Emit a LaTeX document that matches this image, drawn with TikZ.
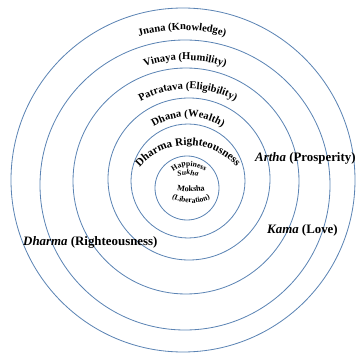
\documentclass[tikz,border=0pt]{standalone}
\usepackage{fontspec}
\setmainfont{Liberation Serif}
\usetikzlibrary{decorations.text}
\definecolor{ringblue}{RGB}{92,132,180}

\tikzset{
  ring/.style={draw=ringblue, line width=0.7pt},
  arclabel/.style={decorate, decoration={text along path, text align=center, text={#1}}},
  plainlabel/.style={font=\fontsize{11}{13}\selectfont\bfseries, inner sep=0pt}
}

\begin{document}
\begin{tikzpicture}[x=0.03cm,y=0.03cm]
  \useasboundingbox (0,0) rectangle (357,357);
  % rings, outermost first
  \draw[ring] (183,177) circle (172);
  \draw[ring] (185,172) circle (145);
  \draw[ring] (186,176) circle (113);
  \draw[ring] (189,178) circle (81);
  \draw[ring] (188,176) circle (57);
  \draw[ring] (187,169) circle (32);
  % curved labels
  \path[arclabel={|\fontsize{9}{9}\selectfont\bfseries|Jnana (Knowledge)}]
    (182,172) ++(125:155) arc[start angle=125, end angle=55, radius=155];
  \path[arclabel={|\fontsize{9}{9}\selectfont\bfseries|Vinaya (Humility)}]
    (185,172) ++(130:125) arc[start angle=130, end angle=50, radius=125];
  \path[arclabel={|\fontsize{9}{9}\selectfont\bfseries|Patratava (Eligibility)}]
    (188,171) ++(140:97) arc[start angle=140, end angle=40, radius=97];
  \path[arclabel={|\fontsize{9}{9}\selectfont\bfseries|Dhana (Wealth)}]
    (188,176) ++(150:64) arc[start angle=150, end angle=30, radius=64];
  \path[arclabel={|\fontsize{9.5}{9.5}\selectfont\bfseries|Dharma Righteousness}]
    (188,148) ++(175:64) arc[start angle=175, end angle=5, radius=64];
  \path[arclabel={|\fontsize{6.5}{6.5}\selectfont\bfseries|Happiness}]
    (189,166) ++(170:25) arc[start angle=170, end angle=10, radius=25];
  \path[arclabel={|\fontsize{6.5}{6.5}\selectfont\bfseries\itshape|Sukha}]
    (188,147) ++(130:35) arc[start angle=130, end angle=50, radius=35];
  \path[arclabel={|\fontsize{7}{7}\selectfont\bfseries|Moksha}]
    (191,226) ++(240:61) arc[start angle=240, end angle=300, radius=61];
  \path[arclabel={|\fontsize{6.5}{6.5}\selectfont\bfseries|(Liberation)}]
    (191,199) ++(220:45) arc[start angle=220, end angle=320, radius=45];
  % straight labels
  \node[plainlabel, anchor=west] (artha) at (255,199) {\textit{Artha} (Prosperity)};
  \node[plainlabel, anchor=west] (kama) at (267,127) {\textit{Kama} (Love)};
  \node[plainlabel, anchor=west] (dharma) at (23,115) {\textit{Dharma} (Righteousness)};
\end{tikzpicture}
\end{document}
